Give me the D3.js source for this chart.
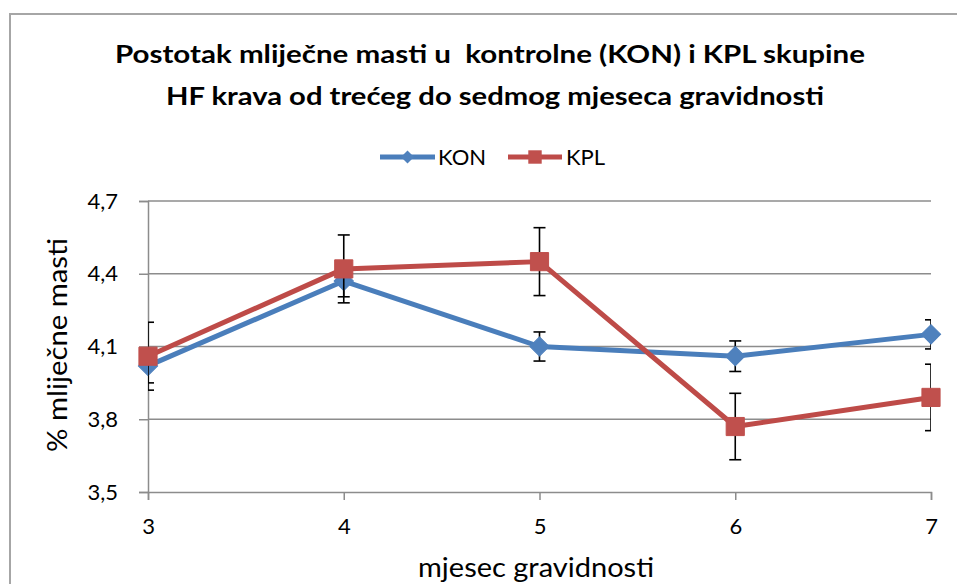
<!DOCTYPE html>
<html>
<head>
<meta charset="utf-8">
<script src="https://cdn.jsdelivr.net/npm/d3@7"></script>
<style>
  body { margin: 0; background: #fff; }
  text { font-family: Lato, "Open Sans", sans-serif; fill: #000; }
</style>
</head>
<body>
<svg id="chart" width="957" height="584"></svg>
<script>
// months of gestation
var months = [3, 4, 5, 6, 7];
// % milk fat, control group
var konValues = [4.02, 4.37, 4.10, 4.06, 4.15];
var konErr = [0.07, 0.065, 0.06, 0.063, 0.06];
// % milk fat, KPL group
var kplValues = [4.06, 4.42, 4.45, 3.77, 3.89];
var kplErr = [0.14, 0.14, 0.14, 0.137, 0.137];
var yTicks = [3.5, 3.8, 4.1, 4.4, 4.7];

var titleLines = ["Postotak mliječne masti u  kontrolne (KON) i KPL skupine",
                  "HF krava od trećeg do sedmog mjeseca gravidnosti"];

var svg = d3.select("#chart");

var x = d3.scaleLinear().domain([3, 7]).range([148, 931]);
var y = d3.scaleLinear().domain([3.5, 4.7]).range([492, 201]);
var fmt = function (d) { return d3.format(".1f")(d).replace(".", ","); };

// outer chart border (cut off at right and bottom)
svg.append("rect")
    .attr("x", 10).attr("y", 14)
    .attr("width", 980).attr("height", 620)
    .attr("fill", "none").attr("stroke", "#a6a6a6").attr("stroke-width", 2);

// title
svg.append("text").attr("x", 490).attr("y", 63).attr("text-anchor", "middle")
    .attr("font-size", 24).attr("font-weight", "bold")
    .attr("xml:space", "preserve")
    .attr("textLength", 750).attr("lengthAdjust", "spacingAndGlyphs")
    .text(titleLines[0]);
svg.append("text").attr("x", 495).attr("y", 105).attr("text-anchor", "middle")
    .attr("font-size", 24).attr("font-weight", "bold")
    .attr("textLength", 658).attr("lengthAdjust", "spacingAndGlyphs")
    .text(titleLines[1]);

// gridlines
svg.append("g").selectAll("line")
    .data(yTicks.slice(1))
    .enter().append("line")
    .attr("x1", x(3)).attr("x2", x(7))
    .attr("y1", function (d) { return y(d); })
    .attr("y2", function (d) { return y(d); })
    .attr("stroke", "#8c8c8c").attr("stroke-width", 1.5);

// axes
var yAxis = svg.append("g")
    .attr("transform", "translate(" + x(3) + ",0)")
    .call(d3.axisLeft(y).tickValues(yTicks).tickFormat(fmt).tickSize(9).tickPadding(21));
var xAxis = svg.append("g")
    .attr("transform", "translate(0," + y(3.5) + ")")
    .call(d3.axisBottom(x).tickValues(months).tickFormat(d3.format("d")).tickSize(8).tickPadding(18));
[yAxis, xAxis].forEach(function (ax) {
  ax.select(".domain").attr("stroke", "#8c8c8c").attr("stroke-width", 1.5);
  ax.selectAll(".tick line").attr("stroke", "#8c8c8c").attr("stroke-width", 1.5);
  ax.selectAll(".tick text").attr("font-size", 22).attr("fill", "#000")
    .style("font-family", "Lato, sans-serif");
});

// axis titles
svg.append("text")
    .attr("transform", "translate(67," + 345 + ") rotate(-90)")
    .attr("text-anchor", "middle").attr("font-size", 26)
    .attr("textLength", 214).attr("lengthAdjust", "spacingAndGlyphs")
    .text("% mliječne masti");
svg.append("text")
    .attr("x", 536).attr("y", 577).attr("text-anchor", "middle")
    .attr("font-size", 26)
    .attr("textLength", 236).attr("lengthAdjust", "spacingAndGlyphs")
    .text("mjesec gravidnosti");

svg.append("clipPath").attr("id", "plotclip")
    .append("rect").attr("x", x(3)).attr("y", y(4.7))
    .attr("width", x(7) - x(3)).attr("height", y(3.5) - y(4.7));

var series = [
  { name: "KON", values: konValues, err: konErr, line: "#4a7ebb", fill: "#4f81bd", symbol: d3.symbolSquare, rot: 45, size: 185, legSize: 85 },
  { name: "KPL", values: kplValues, err: kplErr, line: "#be4b48", fill: "#c0504d", symbol: d3.symbolSquare, rot: 0, size: 330, legSize: 180 }
];

series.forEach(function (s) {
  var pts = months.map(function (m, i) { return { m: m, v: s.values[i], e: s.err[i] }; });

  var eb = svg.append("g").attr("clip-path", "url(#plotclip)")
      .selectAll("g").data(pts).enter().append("g");
  eb.append("line")
      .attr("x1", function (d) { return x(d.m); }).attr("x2", function (d) { return x(d.m); })
      .attr("y1", function (d) { return y(d.v + d.e); }).attr("y2", function (d) { return y(d.v - d.e); })
      .attr("stroke", "#000").attr("stroke-width", 1.6);
  [1, -1].forEach(function (sign) {
    eb.append("line")
        .attr("x1", function (d) { return x(d.m) - 6; }).attr("x2", function (d) { return x(d.m) + 6; })
        .attr("y1", function (d) { return y(d.v + sign * d.e); })
        .attr("y2", function (d) { return y(d.v + sign * d.e); })
        .attr("stroke", "#000").attr("stroke-width", 1.6);
  });

  svg.append("path")
      .datum(pts)
      .attr("fill", "none").attr("stroke", s.line).attr("stroke-width", 5)
      .attr("stroke-linejoin", "round")
      .attr("d", d3.line().x(function (d) { return x(d.m); }).y(function (d) { return y(d.v); }));

  svg.append("g").selectAll("path").data(pts).enter().append("path")
      .attr("transform", function (d) { return "translate(" + x(d.m) + "," + y(d.v) + ") rotate(" + s.rot + ")"; })
      .attr("d", d3.symbol().type(s.symbol).size(s.size))
      .attr("fill", s.fill).attr("stroke", s.fill).attr("stroke-width", 1);
});

// legend
var legendPos = [{ x1: 380, x2: 435, tx: 438 }, { x1: 508, x2: 562, tx: 566 }];
series.forEach(function (s, i) {
  var p = legendPos[i];
  var g = svg.append("g");
  g.append("line").attr("x1", p.x1).attr("x2", p.x2).attr("y1", 157).attr("y2", 157)
      .attr("stroke", s.line).attr("stroke-width", 5);
  g.append("path").attr("transform", "translate(" + (p.x1 + p.x2) / 2 + ",157) rotate(" + s.rot + ")")
      .attr("d", d3.symbol().type(s.symbol).size(s.legSize))
      .attr("fill", s.fill);
  g.append("text").attr("x", p.tx).attr("y", 165).attr("font-size", 22).text(s.name);
});
</script>
</body>
</html>
